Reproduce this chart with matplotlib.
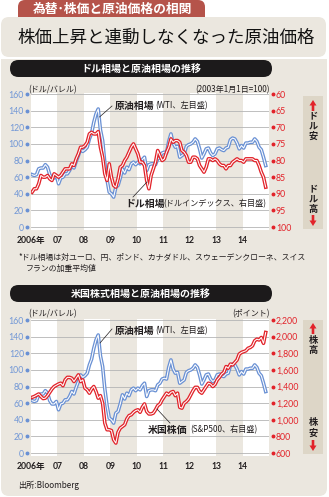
import matplotlib as mpl
mpl.use('Agg')
import matplotlib.pyplot as plt
import matplotlib.transforms as mtransforms
from matplotlib.patches import FancyBboxPatch, Rectangle, FancyArrow

plt.rcParams['font.family'] = ['Noto Sans CJK JP', 'DejaVu Sans']

# 月次データ 2006年1月〜2014年11月
wti = [
    63, 62, 63, 70, 71, 71, 75, 72, 63, 59, 59, 62,          # 2006
    52, 59, 60, 64, 64, 68, 74, 71, 79, 86, 94, 91,          # 2007
    93, 96, 106, 113, 126, 136, 142, 117, 104, 77, 57, 42,   # 2008
    40, 36, 48, 50, 59, 70, 65, 72, 69, 76, 78, 75,          # 2009
    78, 76, 81, 84, 68, 75, 76, 76, 75, 82, 84, 89,          # 2010
    90, 89, 103, 112, 101, 96, 97, 84, 86, 88, 97, 99,       # 2011
    100, 102, 106, 103, 94, 83, 88, 94, 95, 89, 86, 88,      # 2012
    94, 95, 93, 92, 95, 96, 105, 107, 106, 101, 94, 98,      # 2013
    95, 101, 101, 102, 102, 106, 103, 96, 93, 84, 74,        # 2014
]
dollar = [
    89.5, 88.5, 88.5, 87.0, 84.5, 85.0, 85.0, 84.5, 85.5, 86.0, 84.0, 84.5,
    85.0, 84.5, 83.5, 82.5, 82.5, 82.5, 81.0, 81.5, 79.5, 78.0, 76.0, 76.0,
    75.5, 74.5, 72.0, 71.5, 72.0, 72.0, 71.3, 76.0, 79.0, 84.0, 86.0, 81.0,
    85.0, 87.5, 88.0, 85.5, 82.0, 81.5, 80.0, 79.0, 77.5, 76.0, 75.0, 76.5,
    78.0, 80.5, 80.5, 81.5, 86.0, 88.5, 84.5, 82.5, 80.5, 77.0, 78.5, 80.0,
    79.5, 77.5, 76.0, 73.5, 74.5, 74.0, 74.0, 74.5, 77.0, 77.5, 78.5, 80.5,
    80.5, 79.0, 79.0, 79.5, 81.5, 82.5, 83.5, 82.0, 79.5, 79.5, 80.0, 79.5,
    80.0, 81.0, 81.5, 81.5, 82.5, 81.5, 81.5, 80.5, 80.0, 79.5, 80.0, 80.0,
    80.5, 79.5, 79.5, 79.5, 79.5, 80.0, 80.0, 81.5, 83.5, 85.0, 88.0,
]
sp500 = [
    1270, 1280, 1295, 1310, 1280, 1255, 1260, 1290, 1330, 1370, 1400, 1415,
    1430, 1440, 1410, 1480, 1510, 1510, 1500, 1460, 1500, 1540, 1460, 1480,
    1380, 1360, 1320, 1370, 1400, 1340, 1260, 1290, 1200, 960, 880, 880,
    870, 760, 720, 850, 900, 920, 940, 1010, 1050, 1060, 1090, 1110,
    1120, 1090, 1150, 1190, 1100, 1070, 1070, 1080, 1120, 1170, 1190, 1240,
    1280, 1320, 1300, 1330, 1340, 1290, 1320, 1150, 1140, 1200, 1220, 1250,
    1300, 1350, 1390, 1390, 1340, 1320, 1360, 1400, 1440, 1430, 1400, 1425,
    1480, 1510, 1550, 1570, 1640, 1620, 1670, 1660, 1690, 1720, 1790, 1810,
    1820, 1830, 1860, 1870, 1890, 1950, 1970, 1960, 1990, 1920, 2050,
]
months = [2006 + (i + 0.5) / 12 for i in range(len(wti))]

years = list(range(2006, 2015))
year_labels = ['2006年', '07', '08', '09', '10', '11', '12', '13', '14']
left_ticks = list(range(0, 161, 20))
dollar_ticks = [60, 65, 70, 75, 80, 85, 90, 95, 100]
sp_ticks = list(range(600, 2201, 200))
sp_labels = ['600', '800', '1,000', '1,200', '1,400', '1,600', '1,800', '2,000', '2,200']

BEIGE = '#ebe7df'
BAR = '#ddd6c7'
BLUE = '#6a91d4'
BLUE_TXT = '#7197d6'
RED = '#e2232a'
TAG = '#b5534a'
GRID = '#b4b4b4'
INK = '#231f20'

W, H = 329, 497
fig = plt.figure(figsize=(W / 100, H / 100), dpi=100)
fig.patch.set_facecolor('white')

# 背景用（ピクセル座標）
bg = fig.add_axes([0, 0, 1, 1], zorder=0)
bg.set_xlim(0, W)
bg.set_ylim(H, 0)
bg.axis('off')

bg.add_patch(FancyBboxPatch((18, 0), 187, 26, boxstyle='round,pad=0,rounding_size=7',
                            fc=TAG, ec='none'))
bg.add_patch(FancyBboxPatch((1, 17), 325, 40, boxstyle='round,pad=0,rounding_size=8',
                            fc=BEIGE, ec='none'))
bg.add_patch(FancyBboxPatch((1, 59), 326, 437, boxstyle='round,pad=0,rounding_size=8',
                            fc=BEIGE, ec='none'))
bg.add_patch(Rectangle((1, 59), 326, 20, fc=BEIGE, ec='none'))
for y0, y1 in [(96, 229), (320, 454)]:
    bg.add_patch(Rectangle((303, y0), 20, y1 - y0, fc=BAR, ec='none'))

tick_font = ['Lato', 'Noto Sans CJK JP']


def px_axes(top, bottom, left=31, right=269):
    return [left / W, 1 - bottom / H, (right - left) / W, (bottom - top) / H]


def double_line(ax, x, y, color):
    ax.plot(x, y, color=color, lw=2.6, solid_joinstyle='round', zorder=3)
    ax.plot(x, y, color='white', lw=0.75, solid_joinstyle='round', zorder=3.1)


def setup_chart(rect):
    ax = fig.add_axes(rect, zorder=1)
    ax.set_facecolor('none')
    ax.set_xlim(2006, 2015)
    ax.set_ylim(-3, 161)
    for yr in range(2006, 2015, 2):
        ax.axvspan(yr, yr + 1, color='white', lw=0, zorder=0)
    for v in left_ticks:
        ax.axhline(v, color=GRID, lw=0.6, zorder=1)
    for s in ax.spines.values():
        s.set_visible(False)
    ax.set_xticks(years)
    ax.set_xticklabels(year_labels, family=tick_font, fontsize=6.2,
                       fontweight='bold', color=INK)
    ax.set_yticks(left_ticks)
    ax.set_yticklabels([str(v) for v in left_ticks], family=tick_font,
                       fontsize=6.3, color=BLUE_TXT)
    ax.tick_params(axis='both', length=0)
    ax.tick_params(axis='x', pad=4.5)
    ax.tick_params(axis='y', pad=5)
    trans = mtransforms.blended_transform_factory(ax.transAxes, ax.transData)
    ax.plot([-4 / 238] * len(left_ticks), left_ticks, ls='none', marker='o',
            ms=1.8, color=BLUE, clip_on=False, transform=trans)
    return ax


def setup_right(ax, lim, ticks, labels):
    ax2 = ax.twinx()
    ax2.set_ylim(*lim)
    for s in ax2.spines.values():
        s.set_visible(False)
    ax2.set_yticks(ticks)
    ax2.set_yticklabels(labels, family=tick_font, fontsize=6.3, color=RED)
    ax2.tick_params(axis='y', length=0, pad=5)
    trans = mtransforms.blended_transform_factory(ax2.transAxes, ax2.transData)
    ax2.plot([1 + 4 / 238] * len(ticks), ticks, ls='none', marker='o',
             ms=1.8, color=RED, clip_on=False, transform=trans)
    return ax2


# 上段: ドル相場と原油相場
ax1 = setup_chart(px_axes(93.2, 229.5))
double_line(ax1, months, wti, BLUE)
ax1r = setup_right(ax1, (100.75, 59.75), dollar_ticks, [str(v) for v in dollar_ticks])
double_line(ax1r, months, dollar, RED)

# 下段: 米国株価と原油相場
ax2 = setup_chart(px_axes(319.2, 455.5))
double_line(ax2, months, wti, BLUE)
ax2r = setup_right(ax2, (570, 2210), sp_ticks, sp_labels)
double_line(ax2r, months, sp500, RED)

# 前面の文字・装飾
fg = fig.add_axes([0, 0, 1, 1], zorder=5)
fg.set_xlim(0, W)
fg.set_ylim(H, 0)
fg.axis('off')

fg.text(112, 9, '為替･株価と原油価格の相関', ha='center', va='center',
        fontsize=9.2, fontweight='bold', color='white')
fg.text(166, 37.5, '株価上昇と連動しなくなった原油価格', ha='center', va='center',
        fontsize=12.6, color='#111111')

for y, title in [(60, 'ドル相場と原油相場の推移'), (285, '米国株式相場と原油相場の推移')]:
    fg.add_patch(FancyBboxPatch((10, y), 262, 17, boxstyle='round,pad=0,rounding_size=8.5',
                                fc='#1c1a1b', ec='none'))
    fg.text(141, y + 8.7, title, ha='center', va='center', fontsize=7.2,
            fontweight='bold', color='white')

unit_kw = dict(va='center', fontsize=5.8, color=INK)
fg.text(28, 89.5, '(ドル/バレル)', ha='left', **unit_kw)
fg.text(270, 89.5, '(2003年1月1日=100)', ha='right', **unit_kw)
fg.text(28, 313.5, '(ドル/バレル)', ha='left', **unit_kw)
fg.text(270, 313.5, '(ポイント)', ha='right', **unit_kw)


def series_label(x, y, main, sub, w_main):
    fg.text(x, y, main, ha='left', va='center', fontsize=7.1, fontweight='bold', color=INK)
    fg.text(x + w_main, y + 0.3, sub, ha='left', va='center', fontsize=5.9, color=INK)


series_label(115, 105.5, '原油相場', '(WTI、左目盛)', 40)
fg.plot([99.5, 112], [117, 106], color=INK, lw=0.5)
series_label(125, 203.5, 'ドル相場', '(ドルインデックス、右目盛)', 38.5)
fg.plot([133, 147], [197, 182], color=INK, lw=0.5)
series_label(115, 330.5, '原油相場', '(WTI、左目盛)', 40)
fg.plot([100, 112], [343, 329], color=INK, lw=0.5)
series_label(148, 429.5, '米国株価', '(S&P500、右目盛)', 42)
fg.plot([157, 170], [409, 423], color=INK, lw=0.5)

fg.text(18, 257, '*ドル相場は対ユーロ、円、ポンド、カナダドル、スウェーデンクローネ、スイス',
        ha='left', va='center', fontsize=5.7, color=INK)
fg.text(26, 268.5, 'フランの加重平均値', ha='left', va='center', fontsize=5.7, color=INK)
fg.text(18, 485, '出所:Bloomberg', ha='left', va='center', fontsize=5.9, color=INK)


def side_label(chars, y_first, arrow_y, up):
    for i, ch in enumerate(chars):
        fg.text(313, y_first + i * 10.5, ch, ha='center', va='center', fontsize=6.6,
                fontweight='bold', color=INK)
    if up:
        fg.add_patch(FancyArrow(313, arrow_y + 11, 0, -5.5, width=2.6, head_width=7,
                                head_length=5.5, length_includes_head=False,
                                fc=RED, ec='none'))
    else:
        fg.add_patch(FancyArrow(313, arrow_y, 0, 5.5, width=2.6, head_width=7,
                                head_length=5.5, length_includes_head=False,
                                fc=RED, ec='none'))


side_label('ドル安', 115.5, 100, True)
side_label('ドル高', 188.5, 215, False)
side_label('株高', 340, 323, True)
side_label('株安', 423, 440, False)

fig.savefig('out.png', dpi=100, facecolor=fig.get_facecolor())
plt.close(fig)
